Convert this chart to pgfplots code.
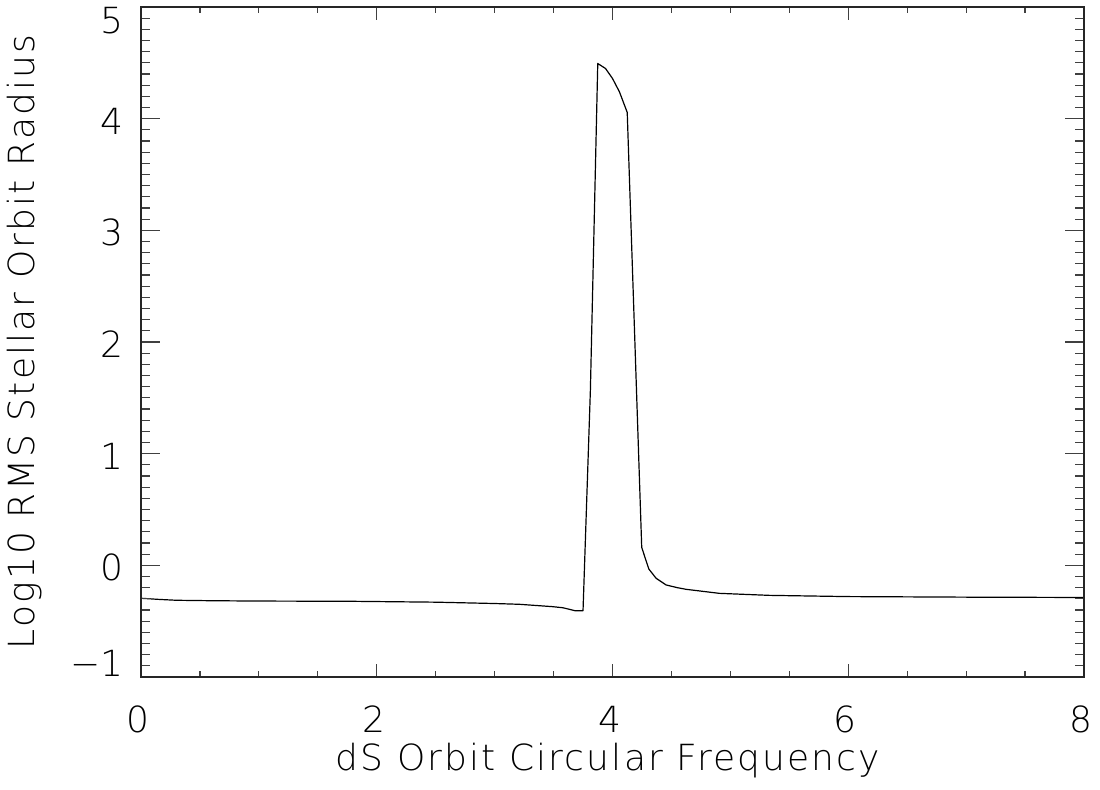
\documentclass[border=0pt]{standalone}
\usepackage{pgfplots}
\pgfplotsset{compat=1.18}
\usepackage{fontspec}
\setmainfont{DejaVu Sans ExtraLight}
\begin{document}
\fontsize{18pt}{21pt}\selectfont
\pgfplotstableread{
x y
0.000 -0.295
0.150 -0.305
0.300 -0.313
0.600 -0.317
1.000 -0.320
1.770 -0.322
2.500 -0.330
3.000 -0.342
3.210 -0.349
3.490 -0.370
3.580 -0.380
3.680 -0.406
3.750 -0.406
3.8125 1.570
3.875 4.494
3.941 4.449
4.000 4.360
4.059 4.240
4.125 4.056
4.248 0.160
4.308 -0.033
4.370 -0.116
4.455 -0.176
4.550 -0.200
4.625 -0.215
4.907 -0.251
5.331 -0.269
6.000 -0.280
7.000 -0.285
8.000 -0.288
}\datatable
\begin{tikzpicture}
\pgfplotsset{
  common/.style={
    scale only axis,
    width=471.5pt, height=335pt,
    xmin=0, xmax=8, ymin=-1, ymax=5,
    axis line style={line width=0.7pt, black!85},
    tick style={line width=0.6pt, black!75},
    tick align=inside,
    clip=false,
  }
}
% x ticks axis
\begin{axis}[common,
  xtick={0,2,4,6,8},
  minor x tick num=3,
  ytick=\empty,
  major tick length=6.5pt, minor tick length=3pt,
  xticklabels={0,2,4,6,8},
  xticklabel style={anchor=center, yshift=-21pt, xshift=-1.5pt},
  xlabel={\addfontfeature{LetterSpace=6}dS Orbit Circular Frequency},
  xlabel style={at={(axis description cs:0.495,-0.125)}, anchor=center},
]
\addplot[black, line width=0.6pt, line join=round] table[x=x,y=y]{\datatable};
\end{axis}
% y ticks axis
\begin{axis}[common,
  xtick=\empty,
  ytick={-1,0,1,2,3,4,5},
  minor y tick num=9,
  major tick length=9.5pt, minor tick length=4.5pt,
  yticklabels={\smash{\raisebox{0.25pt}{−1}},\smash{\raisebox{-7.75pt}{0}},\smash{\raisebox{-7.75pt}{1}},\smash{\raisebox{-7.75pt}{2}},\smash{\raisebox{-7.75pt}{3}},\smash{\raisebox{-7.75pt}{4}},\smash{\raisebox{-13.2pt}{5}}},
  yticklabel style={anchor=east, inner sep=0pt, xshift=-8.5pt},
  ylabel={\addfontfeature{LetterSpace=6}Log10 RMS Stellar Orbit Radius},
  ylabel style={at={(axis description cs:-0.123,0.5)}, anchor=center, rotate=0},
]
\end{axis}
\pgfresetboundingbox
\path[use as bounding box] (current axis.south west) ++(-70.5pt,-56.5pt) rectangle ++(550pt,395pt);
\end{tikzpicture}
\end{document}
